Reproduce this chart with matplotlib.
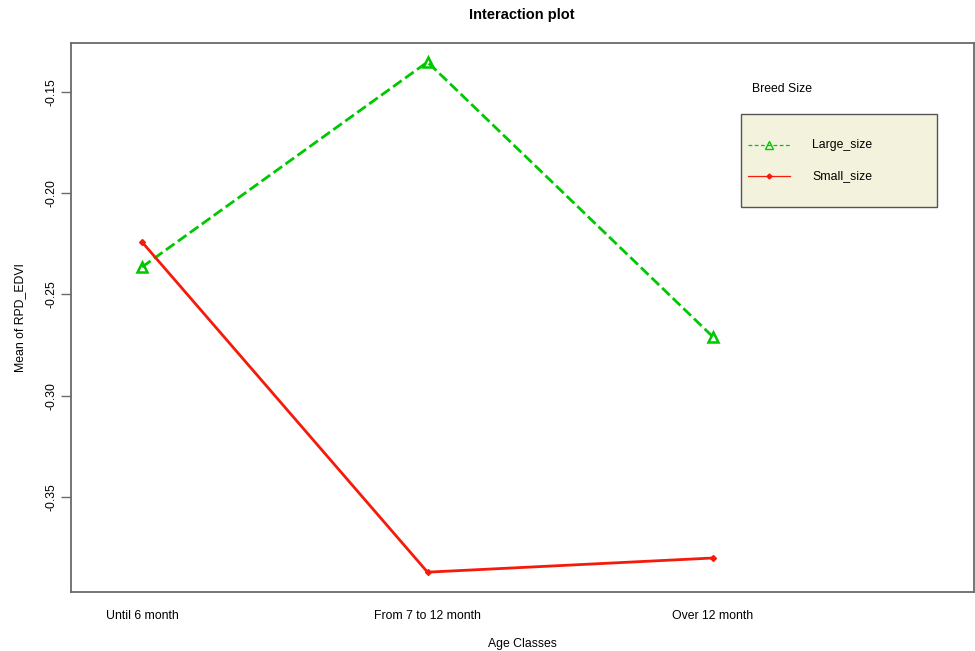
import matplotlib
matplotlib.use("Agg")
import matplotlib.pyplot as plt
from matplotlib.patches import Rectangle
from matplotlib.lines import Line2D

plt.rcParams['font.family'] = ['Liberation Sans', 'DejaVu Sans']

categories = ["Until 6 month", "From 7 to 12 month", "Over 12 month"]
large_size = [-0.2365, -0.1352, -0.2710]
small_size = [-0.2241, -0.3872, -0.3802]
yticks = [-0.15, -0.20, -0.25, -0.30, -0.35]
ytick_labels = ["-0.15", "-0.20", "-0.25", "-0.30", "-0.35"]

GREEN = "#00c800"
RED = "#f51a0a"
FRAME = "#6a6a6a"
FS = 8.8

W, H = 975, 651
fig = plt.figure(figsize=(W / 100, H / 100), dpi=100)
ax = fig.add_axes([71 / W, 1 - 592 / H, (974 - 71) / W, (592 - 43) / H])

x = list(range(1, len(categories) + 1))
ax.plot(x, large_size, color=GREEN, lw=2.0, dashes=(3.8, 1.5),
        marker="^", markersize=6.5, markerfacecolor="none",
        markeredgecolor=GREEN, markeredgewidth=1.8, zorder=3)
ax.plot(x, small_size, color=RED, lw=2.0, marker="D", markersize=3,
        markerfacecolor=RED, markeredgecolor=RED, zorder=3)

ax.set_xlim(0.7513, 3.914)
ax.set_ylim(-0.3970, -0.1258)

ax.set_xticks(x)
ax.set_xticklabels(categories, fontsize=FS)
ax.tick_params(axis="x", length=0, pad=13)
ax.set_yticks(yticks)
ax.set_yticklabels(ytick_labels, fontsize=FS, rotation=90, va="center")
ax.tick_params(axis="y", length=7, width=1, color=FRAME, pad=3)

for s in ax.spines.values():
    s.set_color(FRAME)
    s.set_linewidth(1.3)

def fx(px):
    return px / W

def fy(py):
    return 1 - py / H

fig.text(fx(522), fy(644), "Age Classes", fontsize=FS, ha="center", va="center")
fig.text(fx(20), fy(318), "Mean of RPD_EDVI", fontsize=FS, ha="center",
         va="center", rotation=90)
fig.text(fx(522), fy(15), "Interaction plot", fontsize=10.5,
         fontweight="bold", ha="center", va="center")

# Legend (drawn in figure pixel coordinates)
fig.text(fx(752), fy(89), "Breed Size", fontsize=FS, ha="left", va="center")
rect = Rectangle((fx(741), fy(207)), fx(937) - fx(741), fy(114) - fy(207),
                 transform=fig.transFigure, facecolor="#f3f2dc",
                 edgecolor="#555555", lw=1.0, zorder=5)
fig.patches.append(rect)

entries = [("Large_size", GREEN, (3, 2), "^", 145, "none", 5.5),
           ("Small_size", RED, None, "D", 176, RED, 2.5)]
for label, col, dash, mk, py, mfc, ms in entries:
    ln = Line2D([fx(748), fx(790)], [fy(py), fy(py)], transform=fig.transFigure,
                color=col, lw=0.9, zorder=6)
    if dash:
        ln.set_dashes(dash)
    fig.lines.append(ln)
    mkr = Line2D([fx(769)], [fy(py)], transform=fig.transFigure, marker=mk,
                 markersize=ms, markerfacecolor=mfc, markeredgecolor=col,
                 markeredgewidth=1.0, linestyle="none", zorder=7)
    fig.lines.append(mkr)
    fig.text(fx(812), fy(py), label, fontsize=FS, ha="left", va="center",
             zorder=7)

fig.savefig("out.png", dpi=100)
